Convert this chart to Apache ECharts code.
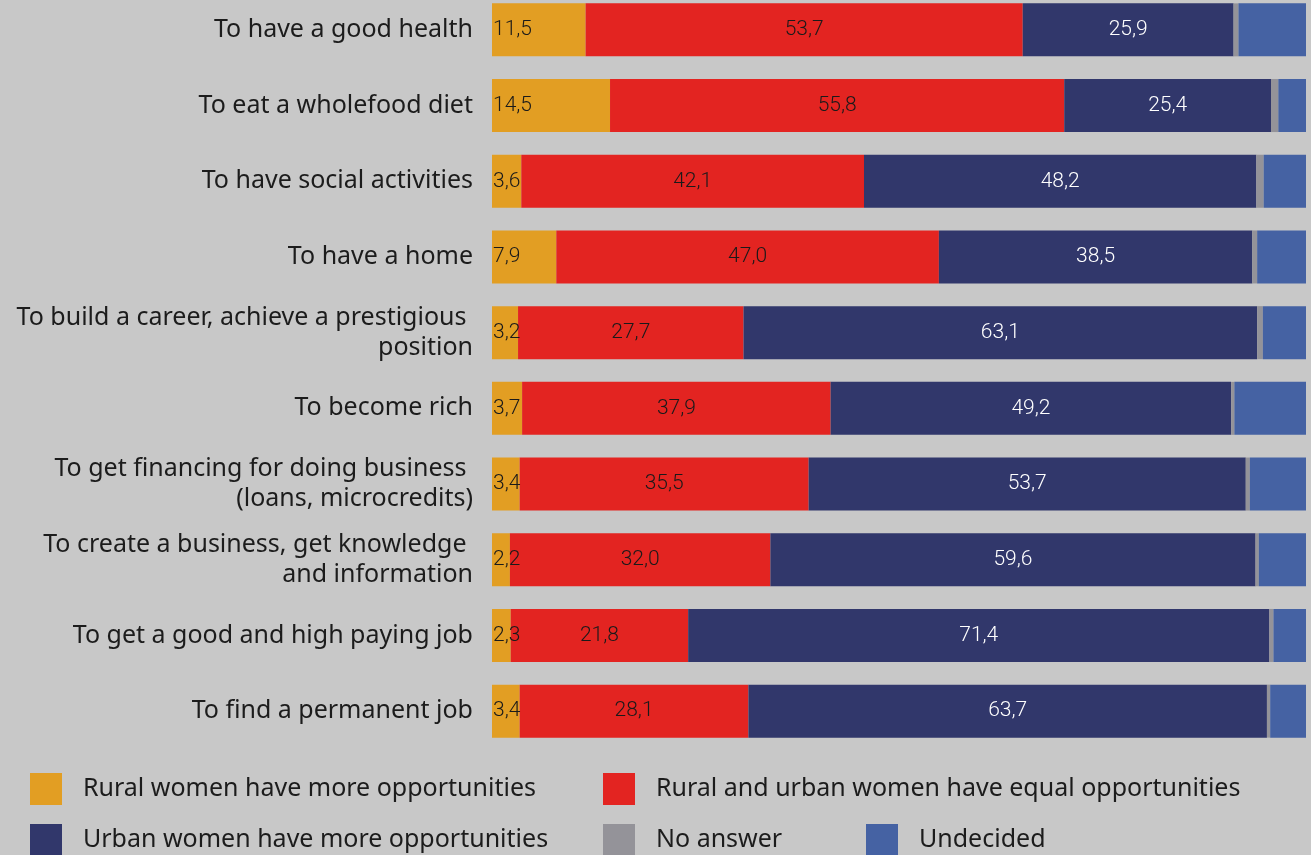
<!DOCTYPE html>
<html>
<head>
<meta charset="utf-8">
<script src="https://cdn.jsdelivr.net/npm/echarts@6/dist/echarts.min.js"></script>
<style>
  html, body { margin: 0; padding: 0; background: #c8c8c8; overflow: hidden; }
  /* the plot starts slightly above the page edge, so the canvas is lifted a little */
  #chart { position: absolute; left: 0; top: -8px; width: 1311px; height: 863px; }
</style>
</head>
<body>
<div id="chart"></div>
<script>
// Questions asked, top to bottom
const categories = [
  'To have a good health',
  'To eat a wholefood diet',
  'To have social activities',
  'To have a home',
  'To build a career, achieve a prestigious \nposition',
  'To become rich',
  'To get financing for doing business \n(loans, microcredits)',
  'To create a business, get knowledge \nand information',
  'To get a good and high paying job',
  'To find a permanent job'
];

const seriesNames = [
  'Rural women have more opportunities',
  'Rural and urban women have equal opportunities',
  'Urban women have more opportunities',
  'No answer',
  'Undecided'
];

// Shares in percent, one entry per question
const ruralMore   = [11.5, 14.5, 3.6, 7.9, 3.2, 3.7, 3.4, 2.2, 2.3, 3.4];
const equalOpp    = [53.7, 55.8, 42.1, 47.0, 27.7, 37.9, 35.5, 32.0, 21.8, 28.1];
const urbanMore   = [25.9, 25.4, 48.2, 38.5, 63.1, 49.2, 53.7, 59.6, 71.4, 63.7];
const noAnswer    = [0.6, 0.9, 0.9, 0.6, 0.7, 0.4, 0.5, 0.4, 0.5, 0.4];
const undecided   = [8.3, 3.4, 5.2, 6.0, 5.3, 8.8, 6.9, 5.8, 4.0, 4.4];

const colors = ['#e29e23', '#e32421', '#31376b', '#949399', '#4562a3'];
const values = [ruralMore, equalOpp, urbanMore, noAnswer, undecided];

const fmt = p => p.value.toFixed(1).replace('.', ',');
const labelFont = { fontFamily: 'Roboto', fontWeight: 300, fontSize: 21 };

const series = values.map((arr, i) => {
  const s = {
    name: seriesNames[i],
    type: 'bar',
    stack: 'total',
    barWidth: 53,
    data: arr,
    itemStyle: { color: colors[i] },
    emphasis: { disabled: true },
    label: { show: false }
  };
  if (i === 0) {
    s.label = Object.assign({ show: true, position: 'insideLeft', distance: 1, color: '#1a1a1a', formatter: fmt }, labelFont);
  } else if (i === 1) {
    s.label = Object.assign({ show: true, position: 'inside', color: '#1a1a1a', formatter: fmt }, labelFont);
  } else if (i === 2) {
    s.label = Object.assign({ show: true, position: 'inside', color: '#ffffff', formatter: fmt }, labelFont);
  }
  return s;
});

// Legend placed item by item in two rows
const legendPos = [
  { left: 30, top: 781 },
  { left: 603, top: 781 },
  { left: 30, top: 832 },
  { left: 603, top: 832 },
  { left: 866, top: 832 }
];
const legend = seriesNames.map((n, i) => ({
  data: [n],
  left: legendPos[i].left,
  top: legendPos[i].top,
  itemWidth: 32,
  itemHeight: 32,
  icon: 'rect',
  selectedMode: false,
  padding: 0,
  textStyle: {
    fontFamily: 'Noto Sans',
    fontSize: 25,
    color: '#1c1c1c',
    padding: [3, 0, 0, 16]
  }
}));

const chart = echarts.init(document.getElementById('chart'), null, { renderer: 'canvas' });
chart.setOption({
  backgroundColor: '#c8c8c8',
  animation: false,
  color: colors,
  legend: legend,
  grid: { left: 492, right: 5, top: 0, height: 757, containLabel: false },
  xAxis: {
    type: 'value',
    min: 0,
    max: 100,
    show: false
  },
  yAxis: {
    type: 'category',
    data: categories,
    inverse: true,
    axisLine: { show: false },
    axisTick: { show: false },
    splitLine: { show: false },
    axisLabel: {
      margin: 19,
      fontFamily: 'Noto Sans',
      fontSize: 25,
      lineHeight: 30,
      color: '#1c1c1c',
      align: 'right'
    }
  },
  series: series
});
</script>
</body>
</html>
